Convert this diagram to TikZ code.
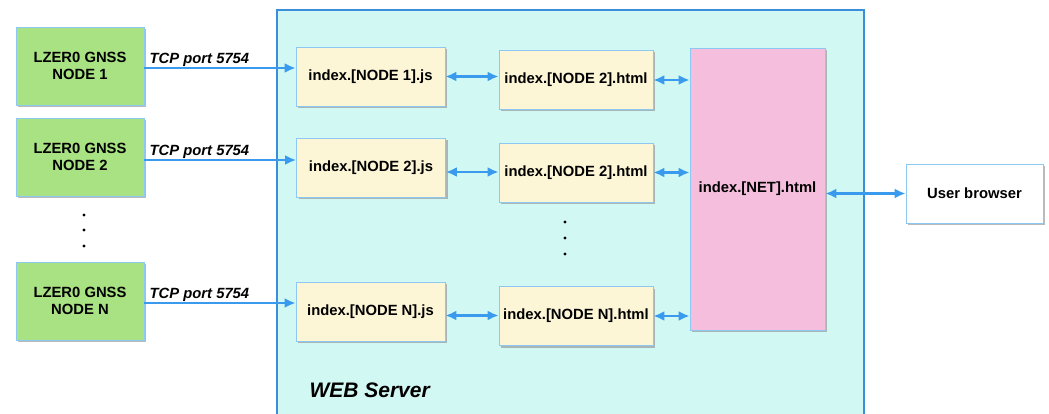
\documentclass[tikz,border=0pt]{standalone}
\usepackage{fontspec}
\setmainfont{Liberation Sans}
\usetikzlibrary{arrows.meta,shadows,calc}
\definecolor{srvfill}{HTML}{D2F8F3}
\definecolor{srvline}{HTML}{3A8EDB}
\definecolor{grnfill}{HTML}{A8E282}
\definecolor{ylwfill}{HTML}{FCF5D6}
\definecolor{pnkfill}{HTML}{F4BEDC}
\definecolor{boxline}{HTML}{8CC8F2}
\definecolor{arrblue}{HTML}{3A9BEE}
\tikzset{
  base/.style={draw=boxline, line width=0.8pt, font=\bfseries\fontsize{14.8}{17}\selectfont, align=center, inner sep=0pt,
    drop shadow={shadow xshift=2pt, shadow yshift=-2pt, fill=black!45, opacity=.6}},
  gnode/.style={base, fill=grnfill, minimum width=128pt, minimum height=78pt},
  jsnode/.style={base, fill=ylwfill, minimum width=149pt, minimum height=59pt},
  htnode/.style={base, fill=ylwfill, minimum width=154pt, minimum height=59pt},
  conn/.style={draw=arrblue, line width=2.6pt, -{Latex[length=11pt,width=10pt]}},
  dconn/.style={draw=arrblue, line width=2.6pt, {Latex[length=11pt,width=10pt]}-{Latex[length=11pt,width=10pt]}},
  tcp/.style={font=\bfseries\itshape\fontsize{14.8}{17}\selectfont, inner sep=1pt},
  dot/.style={circle, fill=black, inner sep=0pt, minimum size=3.2pt},
}
\begin{document}
\begin{tikzpicture}[x=1pt,y=-1pt]
\useasboundingbox (0,0) rectangle (1049,414);
% web server
\draw[fill=srvfill, draw=srvline, line width=1.5pt] (277,10) rectangle (864,430);
\node[font=\bfseries\itshape\fontsize{21}{24}\selectfont, anchor=west] (ws) at (306,390) {WEB Server};
% green nodes
\node[gnode] (g1) at (80,66) {LZER0 GNSS\\NODE 1};
\node[gnode] (g2) at (80,157) {LZER0 GNSS\\NODE 2};
\node[gnode] (gN) at (80,301) {LZER0 GNSS\\NODE N};
\node[dot] (d1) at (84,215) {};
\node[dot] (d2) at (84,230) {};
\node[dot] (d3) at (84,246) {};
% js nodes
\node[jsnode] (j1) at (370.5,76.5) {index.[NODE 1].js};
\node[jsnode] (j2) at (371,168) {index.[NODE 2].js};
\node[jsnode] (jN) at (370.5,311.5) {index.[NODE N].js};
% html nodes
\node[htnode] (h1) at (576,80) {index.[NODE 2].html};
\node[htnode] (h2) at (576,172.5) {index.[NODE 2].html};
\node[htnode] (hN) at (576,316) {index.[NODE N].html};
\node[dot] (e1) at (565,222) {};
\node[dot] (e2) at (565,238) {};
\node[dot] (e3) at (565,254) {};
% net
\node[base, fill=pnkfill, minimum width=135pt, minimum height=282pt] (net) at (757.5,189) {index.[NET].html};
% browser
\node[base, fill=white, minimum width=137pt, minimum height=59pt] (ub) at (974.5,193.5) {User browser};
% connectors
\draw[conn] ($(g1.east)+(0,2)$) -- ($(g1.east -| j1.west)+(0,2)$) node[tcp, pos=0, anchor=south west, xshift=3pt, yshift=-1pt] {TCP port 5754};
\draw[conn] ($(g2.east)+(0,3)$) -- ($(g2.east -| j2.west)+(0,3)$) node[tcp, pos=0, anchor=south west, xshift=3pt, yshift=-1pt] {TCP port 5754};
\draw[conn] ($(gN.east)+(0,2)$) -- ($(gN.east -| jN.west)+(0,2)$) node[tcp, pos=0, anchor=south west, xshift=3pt, yshift=-1pt] {TCP port 5754};
\draw[dconn] (j1.east) -- (j1.east -| h1.west);
\draw[dconn] ($(j2.east)+(0,4)$) -- ($(j2.east -| h2.west)+(0,4)$);
\draw[dconn] ($(jN.east)+(0,4)$) -- ($(jN.east -| hN.west)+(0,4)$);
\draw[dconn] (h1.east) -- (h1.east -| net.west);
\draw[dconn] (h2.east) -- (h2.east -| net.west);
\draw[dconn] (hN.east) -- (hN.east -| net.west);
\draw[dconn] (net.east |- ub.west) -- (ub.west);
\end{tikzpicture}
\end{document}
